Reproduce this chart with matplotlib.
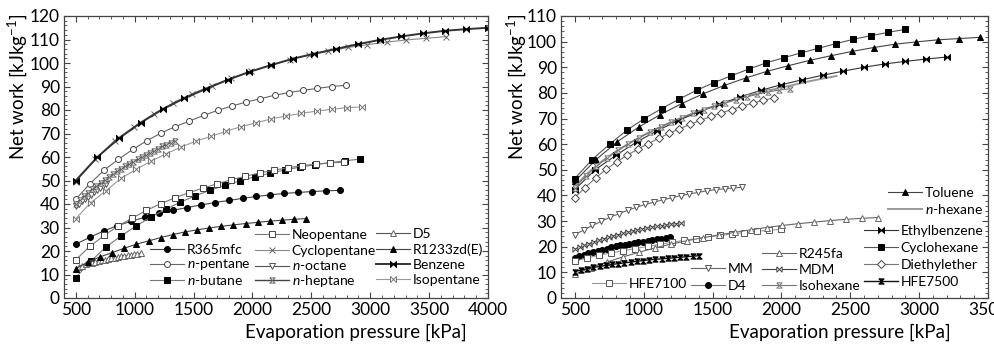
import matplotlib
matplotlib.use("Agg")
import matplotlib.pyplot as plt
from matplotlib.legend import Legend
from matplotlib.ticker import MultipleLocator

plt.rcParams["font.family"] = ["Lato", "DejaVu Sans"]
plt.rcParams["mathtext.fontset"] = "custom"
plt.rcParams["mathtext.rm"] = "Lato"
plt.rcParams["mathtext.it"] = "Lato:italic"

# ---- left panel data (pressure kPa, net work kJ/kg) ----
benzene_p = [500, 684, 868, 1052, 1237, 1421, 1605, 1789, 1973, 2158, 2342, 2526, 2710, 2894, 3079, 3263, 3447, 3631, 3815, 4000]
benzene_w = [50, 60, 68, 74.6, 80.3, 85, 89, 92.8, 96.2, 99.1, 101.8, 104, 106, 108, 109.8, 111.3, 112.6, 113.7, 114.4, 115.0]
cyclopentane_p = [500, 665, 830, 995, 1160, 1325, 1490, 1655, 1820, 1985, 2150, 2315, 2480, 2645, 2810, 2975, 3140, 3305, 3470, 3640]
cyclopentane_w = [49.5, 59, 67, 72.9, 78.3, 83, 87, 90.4, 93.5, 96.4, 99, 101.4, 103.3, 105, 106.6, 107.8, 108.9, 109.8, 110.5, 111.2]
npentane_p = [500, 621, 741, 862, 983, 1103, 1224, 1344, 1465, 1586, 1707, 1827, 1948, 2068, 2189, 2310, 2431, 2551, 2672, 2793]
npentane_w = [42, 48.7, 54.4, 59, 63.2, 66.9, 70.2, 72.9, 75.3, 77.7, 79.9, 81.7, 83.4, 84.8, 86.3, 87.4, 88.4, 89.2, 90, 90.5]
isopentane_p = [500, 628, 756, 883, 1011, 1139, 1267, 1394, 1522, 1650, 1778, 1905, 2033, 2161, 2289, 2416, 2544, 2672, 2800, 2927]
isopentane_w = [33.8, 40.6, 45.6, 50.9, 54.7, 58.2, 61.4, 64.2, 66.8, 68.8, 71, 72.9, 74.6, 76.2, 77.5, 78.6, 79.5, 80.3, 81, 81.3]
nheptane_p = [500, 535, 570, 605, 640, 675, 710, 745, 780, 815, 850, 885, 920, 955, 990, 1025, 1060, 1095, 1130, 1165, 1200, 1235, 1270, 1305, 1340]
nheptane_w = [40, 41.7, 43.3, 44.8, 46.3, 47.7, 49.0, 50.3, 51.5, 52.7, 53.9, 55.0, 56.0, 57.0, 58.0, 59.0, 60.0, 60.9, 61.8, 62.7, 63.6, 64.5, 65.3, 66.1, 66.9]
noctane_p = [500, 526, 552, 578, 604, 630, 656, 682, 708, 734, 760]
noctane_w = [39, 40.1, 41.1, 42.1, 43.1, 44.0, 44.9, 45.8, 46.7, 47.6, 48.4]
d5_p = [500, 528, 555, 583, 610, 638, 665, 693, 720, 748, 775, 803, 830, 858, 885, 913, 940, 968, 995, 1023, 1050]
d5_w = [12.5, 13.2, 13.8, 14.3, 14.7, 15.1, 15.4, 15.7, 16.0, 16.3, 16.6, 16.9, 17.2, 17.4, 17.7, 17.9, 18.2, 18.4, 18.6, 18.8, 19.0]
neopentane_p = [500, 620, 740, 860, 980, 1100, 1220, 1340, 1460, 1580, 1700, 1820, 1940, 2060, 2180, 2300, 2420, 2540, 2660, 2780]
neopentane_w = [16.3, 22, 26.6, 30.6, 34, 37.3, 40.1, 42.6, 44.8, 46.8, 48.6, 50.3, 51.8, 53.2, 54.4, 55.4, 56.3, 57, 57.5, 57.8]
nbutane_p = [500, 627, 754, 881, 1008, 1135, 1262, 1389, 1516, 1643, 1770, 1897, 2024, 2151, 2278, 2405, 2532, 2659, 2786, 2913]
nbutane_w = [8.7, 15.6, 21.6, 26.3, 30.5, 34.4, 37.7, 40.8, 43.5, 45.9, 48, 49.9, 51.6, 53.1, 54.5, 55.7, 56.7, 57.6, 58.4, 59.1]
r365_p = [500, 618, 736, 854, 972, 1090, 1208, 1326, 1444, 1562, 1680, 1798, 1916, 2034, 2152, 2270, 2388, 2506, 2624, 2742]
r365_w = [22.9, 25.8, 28.5, 30.8, 32.7, 34.4, 36.0, 37.3, 38.5, 39.6, 40.6, 41.5, 42.4, 43.2, 43.9, 44.5, 44.9, 45.3, 45.6, 45.8]
r1233_p = [500, 603, 706, 809, 912, 1015, 1118, 1221, 1324, 1427, 1530, 1633, 1736, 1839, 1942, 2045, 2148, 2251, 2354, 2457]
r1233_w = [12.5, 15.3, 17.5, 19.3, 21.2, 22.9, 24.3, 25.7, 27.0, 28.1, 29.0, 29.8, 30.5, 31.1, 31.7, 32.2, 32.7, 33.1, 33.5, 33.8]

# ---- right panel data ----
cyclohexane_p = [500, 626, 753, 879, 1005, 1132, 1258, 1384, 1510, 1637, 1763, 1889, 2016, 2142, 2268, 2395, 2521, 2647, 2774, 2900]
cyclohexane_w = [46.6, 54, 60, 65.5, 70, 73.9, 77.6, 81, 84, 86.7, 89.3, 91.7, 93.7, 95.6, 97.4, 99.2, 100.9, 102.3, 103.6, 104.8]
toluene_p = [500, 655, 810, 965, 1120, 1275, 1430, 1585, 1740, 1895, 2050, 2205, 2360, 2515, 2670, 2825, 2980, 3135, 3290, 3445]
toluene_w = [45.5, 54, 61, 66.7, 71.5, 75.8, 79.6, 82.9, 85.8, 88.4, 90.6, 92.7, 94.5, 96.2, 97.7, 99, 99.9, 100.7, 101.2, 101.7]
ethylbenzene_p = [500, 650, 800, 950, 1100, 1250, 1400, 1550, 1700, 1850, 2000, 2150, 2300, 2450, 2600, 2750, 2900, 3050, 3200]
ethylbenzene_w = [42.3, 50.1, 55.7, 60.9, 65.3, 69.2, 72.6, 75.6, 78.4, 81, 83.2, 85.1, 86.9, 88.5, 90, 91.3, 92.3, 93.2, 94.0]
nhexane_p = [500, 600, 700, 800, 900, 1000, 1100, 1200, 1300, 1400, 1500, 1600, 1700, 1800, 1900, 2000, 2100, 2200, 2300, 2400]
nhexane_w = [43.5, 49, 53.5, 57.2, 60.5, 63.5, 66.2, 68.6, 70.8, 72.8, 74.6, 76.3, 77.9, 79.4, 80.8, 82.1, 83.3, 84.5, 85.6, 86.6]
isohexane_p = [500, 578, 656, 734, 812, 890, 968, 1046, 1124, 1202, 1280, 1358, 1436, 1514, 1592, 1670, 1748, 1826, 1904, 1982, 2060]
isohexane_w = [43, 47.5, 51.3, 54.6, 57.6, 60.2, 62.6, 64.8, 66.8, 68.7, 70.4, 72, 73.5, 74.9, 76.2, 77.4, 78.5, 79.5, 80.4, 81.1, 81.6]
diethylether_p = [500, 576, 652, 728, 804, 880, 956, 1032, 1108, 1184, 1260, 1336, 1412, 1488, 1564, 1640, 1716, 1792, 1868, 1944]
diethylether_w = [39.2, 43.1, 46.9, 50.2, 53.1, 55.7, 58, 60.2, 62.3, 64.2, 66, 67.7, 69.3, 70.8, 72.2, 73.5, 74.8, 76, 77.1, 78.1]
mm_p = [500, 564, 628, 692, 756, 820, 884, 948, 1012, 1076, 1140, 1204, 1268, 1332, 1396, 1460, 1524, 1588, 1652, 1716]
mm_w = [24.7, 26.5, 28.3, 29.9, 31.5, 32.9, 34.2, 35.4, 36.5, 37.4, 38.3, 39.1, 39.9, 40.6, 41.2, 41.8, 42.3, 42.6, 42.9, 43.2]
mdm_p = [500, 535, 570, 605, 640, 675, 710, 745, 780, 815, 850, 885, 920, 955, 990, 1025, 1060, 1095, 1130, 1165, 1200, 1235, 1270]
mdm_w = [19, 19.8, 20.5, 21.2, 21.9, 22.5, 23.1, 23.7, 24.2, 24.7, 25.2, 25.7, 26.1, 26.5, 26.9, 27.3, 27.6, 27.9, 28.2, 28.5, 28.8, 29.0, 29.3]
d4_p = [500, 533, 566, 599, 632, 665, 698, 731, 764, 797, 830, 863, 896, 929, 962, 995, 1028, 1061, 1094, 1127, 1160, 1193]
d4_w = [15.5, 16.2, 16.8, 17.4, 17.9, 18.4, 18.9, 19.3, 19.7, 20.1, 20.5, 20.8, 21.1, 21.4, 21.7, 22.0, 22.3, 22.6, 22.9, 23.1, 23.4, 23.6]
hfe7100_p = [500, 588, 676, 764, 852, 940, 1028, 1116, 1204, 1292, 1380, 1468, 1556, 1644, 1732, 1820, 1908, 1996]
hfe7100_w = [14.3, 15.6, 16.7, 17.6, 18.5, 19.3, 20.1, 20.9, 21.7, 22.5, 23.2, 23.8, 24.4, 25, 25.5, 26, 26.4, 26.8]
r245fa_p = [500, 616, 732, 848, 964, 1080, 1196, 1312, 1428, 1544, 1660, 1776, 1892, 2008, 2124, 2240, 2356, 2472, 2588, 2704]
r245fa_w = [9.3, 11.8, 14, 16, 17.8, 19.5, 21, 22.3, 23.5, 24.6, 25.6, 26.6, 27.5, 28.3, 29, 29.6, 30.2, 30.7, 31.1, 31.4]
hfe7500_p = [500, 545, 590, 635, 680, 725, 770, 815, 860, 905, 950, 995, 1040, 1085, 1130, 1175, 1220, 1265, 1310, 1355, 1400]
hfe7500_w = [10.3, 10.9, 11.4, 11.9, 12.3, 12.7, 13.1, 13.4, 13.7, 14.0, 14.3, 14.6, 14.9, 15.1, 15.3, 15.5, 15.7, 15.9, 16.1, 16.3, 16.5]

W, H = 995, 347
BOWTIE = [(-1, 1), (-1, -1), (1, 1), (1, -1), (-1, 1)]
HOURGLASS = [(-1, 1), (1, 1), (-1, -1), (1, -1), (-1, 1)]

fig = plt.figure(figsize=(W / 100, H / 100), dpi=100)
ax1 = fig.add_axes([64 / W, 1 - 298 / H, 424 / W, 282 / H])
ax2 = fig.add_axes([561 / W, 1 - 298 / H, 427 / W, 282 / H])


def curve(ax, p, w, marker=None, fill="white", mec="#333", color="#666", lw=0.8, ms=4.3, mew=0.7):
    line, = ax.plot(p, w, color=color, lw=lw, marker=marker, ms=ms,
                    mfc=fill, mec=mec, mew=mew)
    return line


def legend_col(ax, items, x_px, rows_px):
    # one single-entry legend per row, placed in figure pixels
    for (h, lab), y in zip(items, rows_px):
        leg = Legend(ax, [h], [lab], loc="center left",
                     bbox_to_anchor=(x_px / W, 1 - y / H), bbox_transform=fig.transFigure,
                     frameon=False, borderpad=0, borderaxespad=0, handlelength=2.45,
                     handletextpad=0.2, fontsize=10)
        ax.add_artist(leg)


# left panel
l_r365 = curve(ax1, r365_p, r365_w, "o", fill="black", mec="black", color="#444")
l_npent = curve(ax1, npentane_p, npentane_w, "o", mec="#444", color="#666")
l_nbut = curve(ax1, nbutane_p, nbutane_w, "s", fill="black", mec="black", color="#777")
l_neo = curve(ax1, neopentane_p, neopentane_w, "s", mec="#444", color="#777")
l_cyc = curve(ax1, cyclopentane_p, cyclopentane_w, "x", mec="#666", color="#888")
l_noct = curve(ax1, noctane_p, noctane_w, "v", mec="#555", color="#555")
l_nhep = curve(ax1, nheptane_p, nheptane_w, HOURGLASS, mec="#666", color="#444", lw=1.0, ms=3.8)
l_d5 = curve(ax1, d5_p, d5_w, "^", mec="#666", color="#555", ms=3.8)
l_r1233 = curve(ax1, r1233_p, r1233_w, "^", fill="black", mec="black", color="#444")
l_benz = curve(ax1, benzene_p, benzene_w, BOWTIE, fill="black", mec="black", color="#333", lw=1.4)
l_isop = curve(ax1, isopentane_p, isopentane_w, BOWTIE, mec="#777", color="#999")

# right panel
l_tol = curve(ax2, toluene_p, toluene_w, "^", fill="black", mec="black", color="#444")
l_hex = curve(ax2, nhexane_p, nhexane_w, None, color="#999", lw=1.4)
l_ethb = curve(ax2, ethylbenzene_p, ethylbenzene_w, BOWTIE, fill="black", mec="black", color="#333")
l_cych = curve(ax2, cyclohexane_p, cyclohexane_w, "s", fill="black", mec="black", color="#555")
l_dee = curve(ax2, diethylether_p, diethylether_w, "D", mec="#444", color="#777", ms=3.8)
l_isoh = curve(ax2, isohexane_p, isohexane_w, HOURGLASS, mec="#777", color="#777", ms=3.8)
l_mm = curve(ax2, mm_p, mm_w, "v", mec="#555", color="#666")
l_mdm = curve(ax2, mdm_p, mdm_w, BOWTIE, mec="#444", color="#444", ms=3.8)
l_d4 = curve(ax2, d4_p, d4_w, "o", fill="black", mec="black", color="#777")
l_hfe71 = curve(ax2, hfe7100_p, hfe7100_w, "s", mec="#555", color="#999")
l_r245 = curve(ax2, r245fa_p, r245fa_w, "^", mec="#666", color="#666", ms=3.8)
l_hfe75 = curve(ax2, hfe7500_p, hfe7500_w, HOURGLASS, fill="black", mec="black", color="#111", lw=1.0, ms=3.8)

for ax, xmax, ymax in [(ax1, 4000, 120), (ax2, 3500, 110)]:
    ax.set_xlim(400, xmax)
    ax.set_ylim(0, ymax)
    ax.xaxis.set_major_locator(MultipleLocator(500))
    ax.xaxis.set_minor_locator(MultipleLocator(100))
    ax.yaxis.set_major_locator(MultipleLocator(10))
    ax.yaxis.set_minor_locator(MultipleLocator(2))
    ax.tick_params(which="both", direction="in", top=True, right=True, labelsize=12.5, pad=3, color="#444")
    ax.tick_params(which="major", length=4)
    ax.tick_params(which="minor", length=2)
    for s in ax.spines.values():
        s.set_color("#444")
        s.set_linewidth(0.9)
    ax.set_xlabel("Evaporation pressure [kPa]", fontsize=13.5)
    ax.set_ylabel("Net work [kJkg$^{-1}$]", fontsize=13.5)

ax1.xaxis.set_label_coords(0.689, -0.09)
ax2.xaxis.set_label_coords(0.653, -0.09)
ax1.yaxis.set_label_coords(-0.083, 0.75)
ax2.yaxis.set_label_coords(-0.078, 0.75)

legend_col(ax1, [(l_r365, "R365mfc"), (l_npent, "$\\it{n}$-pentane"), (l_nbut, "$\\it{n}$-butane")], 150, [250, 265, 280])
legend_col(ax1, [(l_neo, "Neopentane"), (l_cyc, "Cyclopentane"), (l_noct, "$\\it{n}$-octane"), (l_nhep, "$\\it{n}$-heptane")], 255, [235, 251, 266, 281])
legend_col(ax1, [(l_d5, "D5"), (l_r1233, "R1233zd(E)"), (l_benz, "Benzene"), (l_isop, "Isopentane")], 376, [234, 250, 265, 280])

legend_col(ax2, [(l_hfe71, "HFE7100")], 592, [284])
legend_col(ax2, [(l_mm, "MM"), (l_d4, "D4")], 691, [269, 286])
legend_col(ax2, [(l_r245, "R245fa"), (l_mdm, "MDM"), (l_isoh, "Isohexane")], 762, [254, 270, 286])
legend_col(ax2, [(l_tol, "Toluene"), (l_hex, "$\\it{n}$-hexane")], 888, [193, 209])
legend_col(ax2, [(l_ethb, "Ethylbenzene"), (l_cych, "Cyclohexane"), (l_dee, "Diethylether"), (l_hfe75, "HFE7500")], 864, [231, 248, 265, 282])

fig.savefig("out.png", dpi=100)
